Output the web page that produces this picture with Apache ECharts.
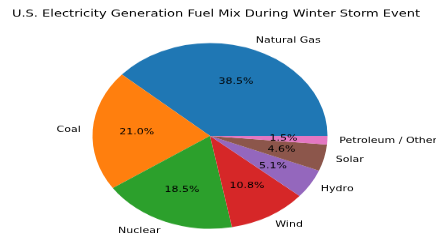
<!DOCTYPE html>
<html>
<head>
<meta charset="utf-8">
<script src="https://cdn.jsdelivr.net/npm/echarts@6/dist/echarts.min.js"></script>
<style>
html,body{margin:0;padding:0;background:#fff;overflow:hidden;}
#wrap{width:436px;height:249px;overflow:hidden;}
#chart{width:436px;height:315px;transform:scaleY(0.79);transform-origin:0 0;}
</style>
</head>
<body>
<div id="wrap"><div id="chart"></div></div>
<script>
const titleText = 'U.S. Electricity Generation Fuel Mix During Winter Storm Event';
const categories = ['Natural Gas', 'Coal', 'Nuclear', 'Wind', 'Hydro', 'Solar', 'Petroleum / Other'];
const shares = [38.5, 21.0, 18.5, 10.8, 5.1, 4.6, 1.5];
const colors = ['#1f77b4', '#ff7f0e', '#2ca02c', '#d62728', '#9467bd', '#8c564b', '#e377c2'];

const data = categories.map((c, i) => ({ name: c, value: shares[i] }));
const font = 'DejaVu Sans';
const R = 117.5;
const center = [210, 172];

const chart = echarts.init(document.getElementById('chart'));
chart.setOption({
  animation: false,
  backgroundColor: '#fff',
  color: colors,
  title: {
    text: titleText,
    left: 211, top: 6, textAlign: 'center',
    textStyle: { fontFamily: font, fontSize: 13, fontWeight: 'normal', color: '#000' }
  },
  series: [
    {
      type: 'pie',
      center: center,
      radius: [0, R],
      startAngle: 0,
      clockwise: false,
      avoidLabelOverlap: false,
      silent: true,
      data: data,
      itemStyle: { borderWidth: 0 },
      label: {
        show: true,
        position: 'outside',
        formatter: '{b}',
        fontFamily: font, fontSize: 11, color: '#000',
        distanceToLabelLine: 0
      },
      labelLine: { show: false, length: 12, length2: 0 }
    },
    {
      type: 'pie',
      center: center,
      radius: [0, R * 1.2],
      startAngle: 0,
      clockwise: false,
      avoidLabelOverlap: false,
      silent: true,
      data: data,
      itemStyle: { color: 'rgba(0,0,0,0)', borderWidth: 0 },
      label: {
        show: true,
        position: 'inside',
        formatter: p => p.value.toFixed(1) + '%',
        fontFamily: font, fontSize: 11, color: '#000'
      },
      labelLine: { show: false }
    }
  ]
});
</script>
</body>
</html>
